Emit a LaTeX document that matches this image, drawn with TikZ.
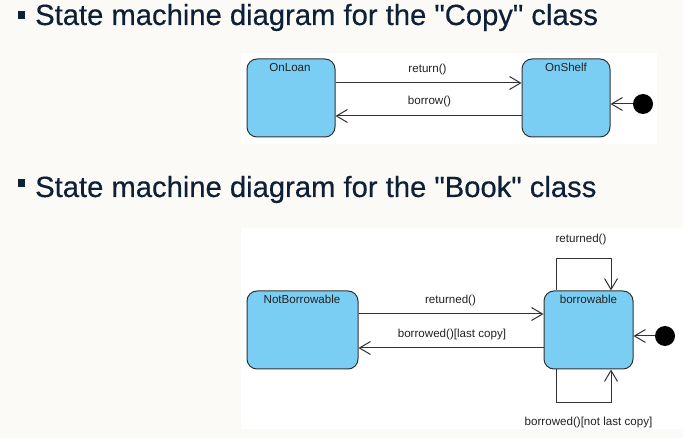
\documentclass[tikz,border=0pt]{standalone}
\usepackage{fontspec}
\setmainfont{Liberation Sans}
\newfontfamily\headfont[FakeBold=0.4]{Liberation Sans}
\usetikzlibrary{arrows.meta}
\definecolor{pagebg}{RGB}{251,250,247}
\definecolor{headcol}{RGB}{14,32,54}
\definecolor{statefill}{RGB}{122,206,243}
\definecolor{linecol}{RGB}{50,50,50}
\definecolor{txtcol}{RGB}{34,34,34}
\newcommand{\dq}{\symbol{34}}
\tikzset{
  heading/.style={anchor=base west, inner sep=0pt, text=headcol, font=\headfont\fontsize{29.2}{34}\selectfont},
  bulletsq/.style={fill=headcol, draw=none},
  panel/.style={fill=white, draw=none},
  statebox/.style={draw=linecol, line width=1pt, fill=statefill, rounded corners=10pt, inner sep=0pt},
  slabel/.style={anchor=base, inner sep=0pt, text=txtcol, font=\fontsize{11.6}{13}\selectfont},
  tlabel/.style={anchor=base, inner sep=0pt, text=txtcol, font=\fontsize{11.6}{13}\selectfont},
  trans/.style={draw=linecol, line width=1pt, -{Straight Barb[length=11pt,width=13pt,line width=1pt]}},
  initdot/.style={circle, fill=black, draw=none, minimum size=20pt, inner sep=0pt}
}
\begin{document}
\begin{tikzpicture}[x=1pt,y=-1pt]
\fill[pagebg] (0,0) rectangle (683,438);
\useasboundingbox (0,0) rectangle (683,438);
% headings
\fill[bulletsq] (17.5,11.5) rectangle (25,19);
\node[heading] (head1) at (35,25) {State machine diagram for the \dq Copy\dq{} class};
\fill[bulletsq] (17.5,179.5) rectangle (25,187);
\node[heading] (head2) at (35,197) {State machine diagram for the \dq Book\dq{} class};
% panels
\fill[panel] (241,53) rectangle (657,144);
\fill[panel] (241,228) rectangle (683,429);
% Copy diagram
\node[statebox, minimum width=88pt, minimum height=78pt] (onloan) at (291,98) {};
\node[statebox, minimum width=88pt, minimum height=78pt] (onshelf) at (566,98) {};
\node[slabel] (onloanlbl) at (290,71.5) {OnLoan};
\node[slabel] (onshelflbl) at (566,71.5) {OnShelf};
\draw[trans] ([yshift=15pt]onloan.east) -- ([yshift=15pt]onshelf.west);
\draw[trans] ([yshift=-18pt]onshelf.west) -- ([yshift=-18pt]onloan.east);
\node[tlabel] (lreturn) at (427.5,73) {return()};
\node[tlabel] (lborrow) at (429.5,105) {borrow()};
\node[initdot] (init1) at (643,104) {};
\draw[trans] (init1) -- (init1 -| onshelf.east);
% Book diagram
\node[statebox, minimum width=111pt, minimum height=78pt] (notb) at (302.5,330) {};
\node[statebox, minimum width=89pt, minimum height=78pt] (borr) at (588.5,330) {};
\node[slabel] (notblbl) at (302,304) {NotBorrowable};
\node[slabel] (borrlbl) at (588.5,304) {borrowable};
\draw[trans] ([yshift=16pt]notb.east) -- ([yshift=16pt]borr.west);
\draw[trans] ([yshift=-18pt]borr.west) -- ([yshift=-18pt]notb.east);
\node[tlabel] (lreturned) at (450.5,304) {returned()};
\node[tlabel] (llast) at (452,338) {borrowed()[last copy]};
\draw[trans] ([xshift=-32.5pt]borr.north) -- ++(0,-32) -| ([xshift=22.5pt]borr.north);
\node[tlabel] (ltop) at (581,243) {returned()};
\draw[trans] ([xshift=-32.5pt]borr.south) -- ++(0,33) -| ([xshift=22.5pt]borr.south);
\node[tlabel] (lbottom) at (588.5,425) {borrowed()[not last copy]};
\node[initdot] (init2) at (665,336) {};
\draw[trans] (init2) -- (init2 -| borr.east);
\end{tikzpicture}
\end{document}
